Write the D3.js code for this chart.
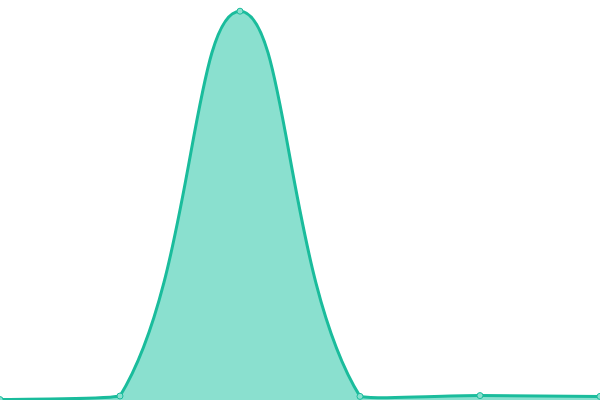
<!DOCTYPE html>
<meta charset="utf-8">
<script src="https://d3js.org/d3.v7.min.js"></script>
<style>
  html, body { margin: 0; padding: 0; background: #fff; }
</style>
<div id="chart"></div>
<script>
// data
const labels = ["A", "B", "C", "D", "E", "F"];
const values = [0.1, 1, 97.2, 0.9, 1.1, 0.9];

const width = 600, height = 400;
const tension = 0.4;

const svg = d3.select("#chart")
  .append("svg")
  .attr("width", width)
  .attr("height", height);

const x = d3.scalePoint()
  .domain(labels)
  .range([0, width]);

const y = d3.scaleLinear()
  .domain([0, 100])
  .range([height, 0]);

const pts = labels.map((l, i) => ({x: x(l), y: y(values[i])}));

// spline control points, capped to the plot area
pts.forEach((p, i) => {
  const prev = pts[i - 1] || p, next = pts[i + 1] || p;
  const d01 = Math.hypot(p.x - prev.x, p.y - prev.y);
  const d12 = Math.hypot(next.x - p.x, next.y - p.y);
  let s01 = d01 / (d01 + d12), s12 = d12 / (d01 + d12);
  if (isNaN(s01)) s01 = 0;
  if (isNaN(s12)) s12 = 0;
  const fa = tension * s01, fb = tension * s12;
  const cap = (v, lo, hi) => Math.max(lo, Math.min(hi, v));
  p.cpPrev = {x: cap(p.x - fa * (next.x - prev.x), 0, width), y: cap(p.y - fa * (next.y - prev.y), 0, height)};
  p.cpNext = {x: cap(p.x + fb * (next.x - prev.x), 0, width), y: cap(p.y + fb * (next.y - prev.y), 0, height)};
});

function spline(ctx) {
  ctx.moveTo(pts[0].x, pts[0].y);
  for (let i = 1; i < pts.length; i++) {
    const a = pts[i - 1], b = pts[i];
    ctx.bezierCurveTo(a.cpNext.x, a.cpNext.y, b.cpPrev.x, b.cpPrev.y, b.x, b.y);
  }
  return ctx;
}

const areaPath = spline(d3.path());
areaPath.lineTo(pts[pts.length - 1].x, y(0));
areaPath.lineTo(pts[0].x, y(0));
areaPath.closePath();

svg.append("path")
  .attr("d", areaPath.toString())
  .attr("fill", "#8ae0cf");

svg.append("path")
  .attr("d", spline(d3.path()).toString())
  .attr("fill", "none")
  .attr("stroke", "#1abc9c")
  .attr("stroke-width", 3);

svg.append("g")
  .selectAll("circle")
  .data(pts)
  .join("circle")
    .attr("cx", d => d.x)
    .attr("cy", d => d.y)
    .attr("r", 3)
    .attr("fill", "#8ae0cf")
    .attr("stroke", "#1abc9c")
    .attr("stroke-width", 1);
</script>
